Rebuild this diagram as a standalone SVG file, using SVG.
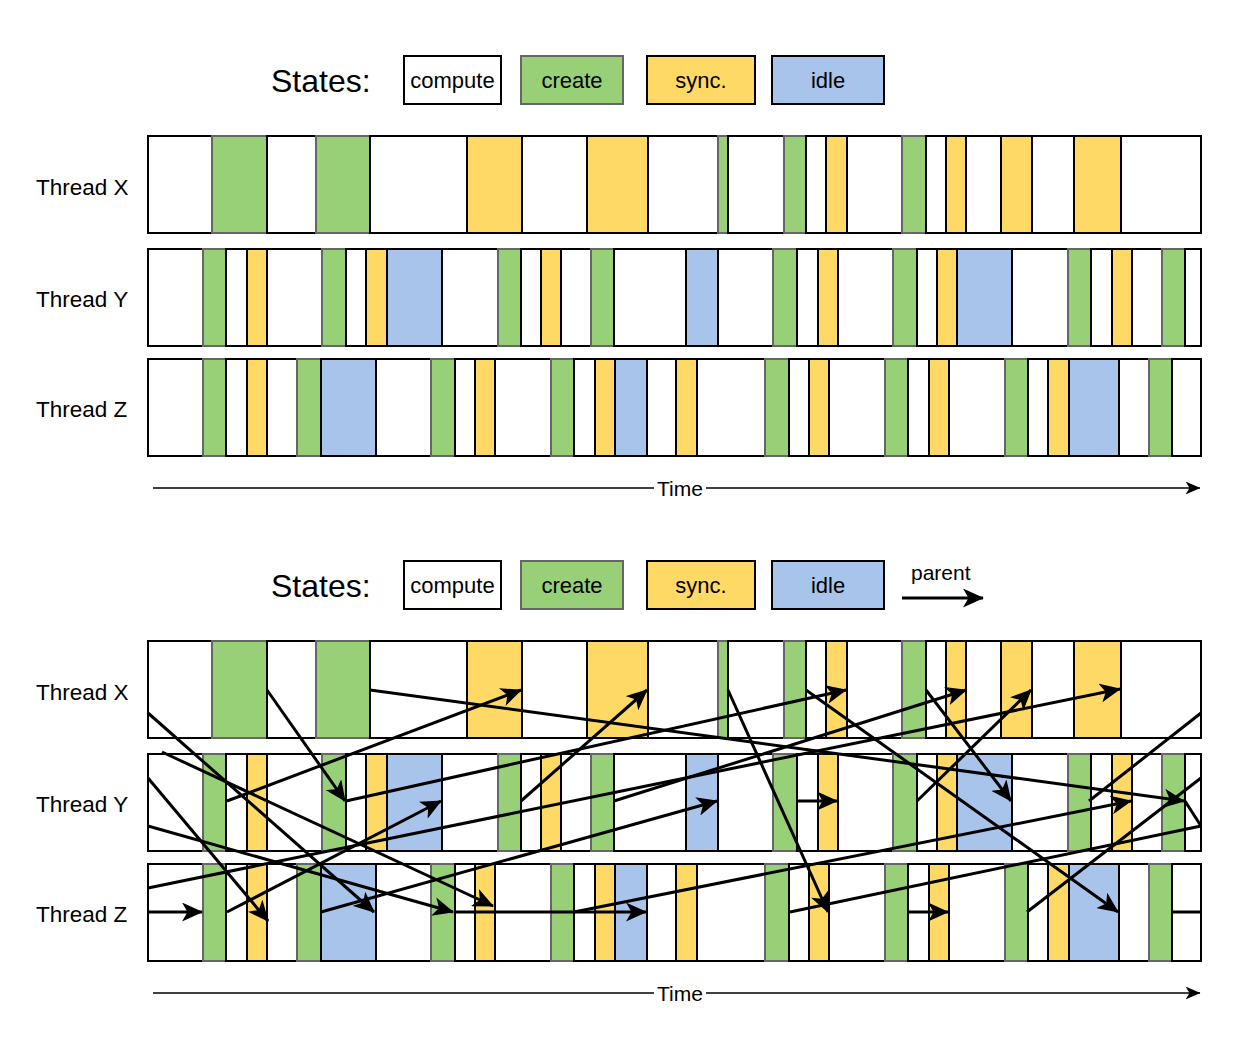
<svg xmlns="http://www.w3.org/2000/svg" width="1244" height="1050" viewBox="0 0 1244 1050">
<style>
text{font-family:"Liberation Sans",Arial,Helvetica,sans-serif;fill:#000}
.lbl{font-size:22.5px}
.st{font-size:32px}
.lg{font-size:22px;text-anchor:middle}
.c{fill:#fff;stroke:#000;stroke-width:2}
.g{fill:#97D077;stroke:#666;stroke-width:2}
.s{fill:#FFD966;stroke:#000;stroke-width:2}
.i{fill:#A9C4EB;stroke:#000;stroke-width:2}
.e{fill:none;stroke:#000;stroke-width:3}
.ea{fill:none;stroke:#000;stroke-width:3;marker-end:url(#ah)}
.ax{fill:none;stroke:#000;stroke-width:1.3;marker-end:url(#ta)}
</style>
<defs>
<marker id="ah" viewBox="0 0 21 19" refX="20" refY="9.5" markerWidth="21" markerHeight="19" markerUnits="userSpaceOnUse" orient="auto"><path d="M0,0 L21,9.5 L0,19 L5.5,9.5 Z" fill="#000"/></marker>
<marker id="ta" viewBox="0 0 15 13" refX="14.5" refY="6.5" markerWidth="15" markerHeight="13" markerUnits="userSpaceOnUse" orient="auto"><path d="M0,0 L15,6.5 L0,13 L4,6.5 Z" fill="#000"/></marker>
</defs>
<rect width="1244" height="1050" fill="#fff"/>

<!-- ===== TOP PANEL ===== -->
<g id="legend-top">
<text class="st" x="271" y="92">States:</text>
<g id="lt-compute"><rect class="c" x="404" y="56" width="97" height="48"/><text class="lg" x="452.5" y="88">compute</text></g>
<g id="lt-create"><rect class="g" x="521" y="56" width="102" height="48"/><text class="lg" x="572" y="88">create</text></g>
<g id="lt-sync"><rect class="s" x="647" y="56" width="108" height="48"/><text class="lg" x="701" y="88">sync.</text></g>
<g id="lt-idle"><rect class="i" x="772" y="56" width="112" height="48"/><text class="lg" x="828" y="88">idle</text></g>
</g>

<g id="top-thread-x">
<text class="lbl" x="36" y="195">Thread X</text>
<rect class="c" x="148" y="136" width="64" height="97"/>
<rect class="g" x="212" y="136" width="55" height="97"/>
<rect class="c" x="267" y="136" width="49" height="97"/>
<rect class="g" x="316" y="136" width="54" height="97"/>
<rect class="c" x="370" y="136" width="97" height="97"/>
<rect class="s" x="467" y="136" width="55" height="97"/>
<rect class="c" x="522" y="136" width="65" height="97"/>
<rect class="s" x="587" y="136" width="61" height="97"/>
<rect class="c" x="648" y="136" width="70" height="97"/>
<rect class="g" x="718" y="136" width="10" height="97"/>
<rect class="c" x="728" y="136" width="56" height="97"/>
<rect class="g" x="784" y="136" width="22" height="97"/>
<rect class="c" x="806" y="136" width="20" height="97"/>
<rect class="s" x="826" y="136" width="21" height="97"/>
<rect class="c" x="847" y="136" width="55" height="97"/>
<rect class="g" x="902" y="136" width="24" height="97"/>
<rect class="c" x="926" y="136" width="20" height="97"/>
<rect class="s" x="946" y="136" width="20" height="97"/>
<rect class="c" x="966" y="136" width="35" height="97"/>
<rect class="s" x="1001" y="136" width="31" height="97"/>
<rect class="c" x="1032" y="136" width="42" height="97"/>
<rect class="s" x="1074" y="136" width="47" height="97"/>
<rect class="c" x="1121" y="136" width="80" height="97"/>
</g>

<g id="top-thread-y">
<text class="lbl" x="36" y="307">Thread Y</text>
<rect class="c" x="148" y="249" width="55" height="97"/>
<rect class="g" x="203" y="249" width="23" height="97"/>
<rect class="c" x="226" y="249" width="21" height="97"/>
<rect class="s" x="247" y="249" width="20" height="97"/>
<rect class="c" x="267" y="249" width="55" height="97"/>
<rect class="g" x="322" y="249" width="24" height="97"/>
<rect class="c" x="346" y="249" width="20" height="97"/>
<rect class="s" x="366" y="249" width="21" height="97"/>
<rect class="i" x="387" y="249" width="55" height="97"/>
<rect class="c" x="442" y="249" width="56" height="97"/>
<rect class="g" x="498" y="249" width="23" height="97"/>
<rect class="c" x="521" y="249" width="20" height="97"/>
<rect class="s" x="541" y="249" width="20" height="97"/>
<rect class="c" x="561" y="249" width="30" height="97"/>
<rect class="g" x="591" y="249" width="23" height="97"/>
<rect class="c" x="614" y="249" width="72" height="97"/>
<rect class="i" x="686" y="249" width="32" height="97"/>
<rect class="c" x="718" y="249" width="55" height="97"/>
<rect class="g" x="773" y="249" width="24" height="97"/>
<rect class="c" x="797" y="249" width="21" height="97"/>
<rect class="s" x="818" y="249" width="20" height="97"/>
<rect class="c" x="838" y="249" width="55" height="97"/>
<rect class="g" x="893" y="249" width="24" height="97"/>
<rect class="c" x="917" y="249" width="20" height="97"/>
<rect class="s" x="937" y="249" width="20" height="97"/>
<rect class="i" x="957" y="249" width="55" height="97"/>
<rect class="c" x="1012" y="249" width="56" height="97"/>
<rect class="g" x="1068" y="249" width="23" height="97"/>
<rect class="c" x="1091" y="249" width="21" height="97"/>
<rect class="s" x="1112" y="249" width="20" height="97"/>
<rect class="c" x="1132" y="249" width="30" height="97"/>
<rect class="g" x="1162" y="249" width="23" height="97"/>
<rect class="c" x="1185" y="249" width="16" height="97"/>
</g>

<g id="top-thread-z">
<text class="lbl" x="36" y="417">Thread Z</text>
<rect class="c" x="148" y="359" width="55" height="97"/>
<rect class="g" x="203" y="359" width="23" height="97"/>
<rect class="c" x="226" y="359" width="21" height="97"/>
<rect class="s" x="247" y="359" width="20" height="97"/>
<rect class="c" x="267" y="359" width="30" height="97"/>
<rect class="g" x="297" y="359" width="24" height="97"/>
<rect class="i" x="321" y="359" width="55" height="97"/>
<rect class="c" x="376" y="359" width="55" height="97"/>
<rect class="g" x="431" y="359" width="24" height="97"/>
<rect class="c" x="455" y="359" width="20" height="97"/>
<rect class="s" x="475" y="359" width="20" height="97"/>
<rect class="c" x="495" y="359" width="56" height="97"/>
<rect class="g" x="551" y="359" width="23" height="97"/>
<rect class="c" x="574" y="359" width="21" height="97"/>
<rect class="s" x="595" y="359" width="20" height="97"/>
<rect class="i" x="615" y="359" width="32" height="97"/>
<rect class="c" x="647" y="359" width="29" height="97"/>
<rect class="s" x="676" y="359" width="21" height="97"/>
<rect class="c" x="697" y="359" width="68" height="97"/>
<rect class="g" x="765" y="359" width="24" height="97"/>
<rect class="c" x="789" y="359" width="20" height="97"/>
<rect class="s" x="809" y="359" width="20" height="97"/>
<rect class="c" x="829" y="359" width="56" height="97"/>
<rect class="g" x="885" y="359" width="23" height="97"/>
<rect class="c" x="908" y="359" width="21" height="97"/>
<rect class="s" x="929" y="359" width="20" height="97"/>
<rect class="c" x="949" y="359" width="56" height="97"/>
<rect class="g" x="1005" y="359" width="23" height="97"/>
<rect class="c" x="1028" y="359" width="20" height="97"/>
<rect class="s" x="1048" y="359" width="21" height="97"/>
<rect class="i" x="1069" y="359" width="50" height="97"/>
<rect class="c" x="1119" y="359" width="30" height="97"/>
<rect class="g" x="1149" y="359" width="23" height="97"/>
<rect class="c" x="1172" y="359" width="29" height="97"/>
</g>

<g id="time-top">
<line class="ax" x1="153" y1="488" x2="1200" y2="488"/>
<rect x="654" y="477" width="52" height="22" fill="#fff"/>
<text x="680" y="495.5" font-size="21" text-anchor="middle">Time</text>
</g>

<!-- ===== BOTTOM PANEL ===== -->
<g id="legend-bottom">
<text class="st" x="271" y="597">States:</text>
<g id="lb-compute"><rect class="c" x="404" y="561" width="97" height="48"/><text class="lg" x="452.5" y="593">compute</text></g>
<g id="lb-create"><rect class="g" x="521" y="561" width="102" height="48"/><text class="lg" x="572" y="593">create</text></g>
<g id="lb-sync"><rect class="s" x="647" y="561" width="108" height="48"/><text class="lg" x="701" y="593">sync.</text></g>
<g id="lb-idle"><rect class="i" x="772" y="561" width="112" height="48"/><text class="lg" x="828" y="593">idle</text></g>
<g id="lb-parent"><text x="911" y="580" font-size="21">parent</text><line class="ea" x1="902" y1="598" x2="983" y2="598"/></g>
</g>

<g id="bot-thread-x">
<text class="lbl" x="36" y="700">Thread X</text>
<rect class="c" x="148" y="641" width="64" height="97"/>
<rect class="g" x="212" y="641" width="55" height="97"/>
<rect class="c" x="267" y="641" width="49" height="97"/>
<rect class="g" x="316" y="641" width="54" height="97"/>
<rect class="c" x="370" y="641" width="97" height="97"/>
<rect class="s" x="467" y="641" width="55" height="97"/>
<rect class="c" x="522" y="641" width="65" height="97"/>
<rect class="s" x="587" y="641" width="61" height="97"/>
<rect class="c" x="648" y="641" width="70" height="97"/>
<rect class="g" x="718" y="641" width="10" height="97"/>
<rect class="c" x="728" y="641" width="56" height="97"/>
<rect class="g" x="784" y="641" width="22" height="97"/>
<rect class="c" x="806" y="641" width="20" height="97"/>
<rect class="s" x="826" y="641" width="21" height="97"/>
<rect class="c" x="847" y="641" width="55" height="97"/>
<rect class="g" x="902" y="641" width="24" height="97"/>
<rect class="c" x="926" y="641" width="20" height="97"/>
<rect class="s" x="946" y="641" width="20" height="97"/>
<rect class="c" x="966" y="641" width="35" height="97"/>
<rect class="s" x="1001" y="641" width="31" height="97"/>
<rect class="c" x="1032" y="641" width="42" height="97"/>
<rect class="s" x="1074" y="641" width="47" height="97"/>
<rect class="c" x="1121" y="641" width="80" height="97"/>
</g>

<g id="bot-thread-y">
<text class="lbl" x="36" y="812">Thread Y</text>
<rect class="c" x="148" y="754" width="55" height="97"/>
<rect class="g" x="203" y="754" width="23" height="97"/>
<rect class="c" x="226" y="754" width="21" height="97"/>
<rect class="s" x="247" y="754" width="20" height="97"/>
<rect class="c" x="267" y="754" width="55" height="97"/>
<rect class="g" x="322" y="754" width="24" height="97"/>
<rect class="c" x="346" y="754" width="20" height="97"/>
<rect class="s" x="366" y="754" width="21" height="97"/>
<rect class="i" x="387" y="754" width="55" height="97"/>
<rect class="c" x="442" y="754" width="56" height="97"/>
<rect class="g" x="498" y="754" width="23" height="97"/>
<rect class="c" x="521" y="754" width="20" height="97"/>
<rect class="s" x="541" y="754" width="20" height="97"/>
<rect class="c" x="561" y="754" width="30" height="97"/>
<rect class="g" x="591" y="754" width="23" height="97"/>
<rect class="c" x="614" y="754" width="72" height="97"/>
<rect class="i" x="686" y="754" width="32" height="97"/>
<rect class="c" x="718" y="754" width="55" height="97"/>
<rect class="g" x="773" y="754" width="24" height="97"/>
<rect class="c" x="797" y="754" width="21" height="97"/>
<rect class="s" x="818" y="754" width="20" height="97"/>
<rect class="c" x="838" y="754" width="55" height="97"/>
<rect class="g" x="893" y="754" width="24" height="97"/>
<rect class="c" x="917" y="754" width="20" height="97"/>
<rect class="s" x="937" y="754" width="20" height="97"/>
<rect class="i" x="957" y="754" width="55" height="97"/>
<rect class="c" x="1012" y="754" width="56" height="97"/>
<rect class="g" x="1068" y="754" width="23" height="97"/>
<rect class="c" x="1091" y="754" width="21" height="97"/>
<rect class="s" x="1112" y="754" width="20" height="97"/>
<rect class="c" x="1132" y="754" width="30" height="97"/>
<rect class="g" x="1162" y="754" width="23" height="97"/>
<rect class="c" x="1185" y="754" width="16" height="97"/>
</g>

<g id="bot-thread-z">
<text class="lbl" x="36" y="922">Thread Z</text>
<rect class="c" x="148" y="864" width="55" height="97"/>
<rect class="g" x="203" y="864" width="23" height="97"/>
<rect class="c" x="226" y="864" width="21" height="97"/>
<rect class="s" x="247" y="864" width="20" height="97"/>
<rect class="c" x="267" y="864" width="30" height="97"/>
<rect class="g" x="297" y="864" width="24" height="97"/>
<rect class="i" x="321" y="864" width="55" height="97"/>
<rect class="c" x="376" y="864" width="55" height="97"/>
<rect class="g" x="431" y="864" width="24" height="97"/>
<rect class="c" x="455" y="864" width="20" height="97"/>
<rect class="s" x="475" y="864" width="20" height="97"/>
<rect class="c" x="495" y="864" width="56" height="97"/>
<rect class="g" x="551" y="864" width="23" height="97"/>
<rect class="c" x="574" y="864" width="21" height="97"/>
<rect class="s" x="595" y="864" width="20" height="97"/>
<rect class="i" x="615" y="864" width="32" height="97"/>
<rect class="c" x="647" y="864" width="29" height="97"/>
<rect class="s" x="676" y="864" width="21" height="97"/>
<rect class="c" x="697" y="864" width="68" height="97"/>
<rect class="g" x="765" y="864" width="24" height="97"/>
<rect class="c" x="789" y="864" width="20" height="97"/>
<rect class="s" x="809" y="864" width="20" height="97"/>
<rect class="c" x="829" y="864" width="56" height="97"/>
<rect class="g" x="885" y="864" width="23" height="97"/>
<rect class="c" x="908" y="864" width="21" height="97"/>
<rect class="s" x="929" y="864" width="20" height="97"/>
<rect class="c" x="949" y="864" width="56" height="97"/>
<rect class="g" x="1005" y="864" width="23" height="97"/>
<rect class="c" x="1028" y="864" width="20" height="97"/>
<rect class="s" x="1048" y="864" width="21" height="97"/>
<rect class="i" x="1069" y="864" width="50" height="97"/>
<rect class="c" x="1119" y="864" width="30" height="97"/>
<rect class="g" x="1149" y="864" width="23" height="97"/>
<rect class="c" x="1172" y="864" width="29" height="97"/>
</g>

<g id="connectors">
<line class="ea" x1="267" y1="690" x2="345" y2="801"/>
<line class="ea" x1="227" y1="801" x2="521" y2="690"/>
<line class="ea" x1="370" y1="690" x2="1184" y2="801"/>
<line class="ea" x1="346" y1="801" x2="846" y2="690"/>
<line class="ea" x1="227" y1="912" x2="441" y2="801"/>
<line class="ea" x1="321" y1="912" x2="717" y2="801"/>
<line class="ea" x1="521" y1="801" x2="647" y2="690"/>
<line class="ea" x1="614" y1="801" x2="966" y2="690"/>
<line class="ea" x1="728" y1="690" x2="828" y2="912"/>
<line class="ea" x1="797" y1="801" x2="837" y2="801"/>
<line class="ea" x1="455" y1="912" x2="646" y2="912"/>
<line class="ea" x1="574" y1="912" x2="1131" y2="801"/>
<line class="ea" x1="806" y1="690" x2="1118" y2="912"/>
<line class="ea" x1="926" y1="690" x2="1011" y2="801"/>
<line class="ea" x1="917" y1="801" x2="1031" y2="690"/>
<line class="ea" x1="908" y1="912" x2="948" y2="912"/>
<line class="ea" x1="148" y1="713" x2="374" y2="912"/>
<line class="ea" x1="148" y1="778" x2="268" y2="921"/>
<line class="ea" x1="148" y1="826" x2="453" y2="912"/>
<line class="ea" x1="148" y1="888" x2="1120" y2="689"/>
<line class="ea" x1="162" y1="752" x2="493" y2="906"/>
<line class="ea" x1="148" y1="912" x2="202" y2="912"/>
<line class="e" x1="1089" y1="801" x2="1201" y2="713"/>
<line class="e" x1="1027" y1="912" x2="1201" y2="778"/>
<line class="e" x1="1172" y1="912" x2="1201" y2="912"/>
<line class="e" x1="790" y1="912" x2="1201" y2="826"/>
<line class="e" x1="1185" y1="801" x2="1201" y2="826"/>
</g>

<g id="time-bottom">
<line class="ax" x1="153" y1="993" x2="1200" y2="993"/>
<rect x="654" y="982" width="52" height="22" fill="#fff"/>
<text x="680" y="1000.5" font-size="21" text-anchor="middle">Time</text>
</g>
</svg>
